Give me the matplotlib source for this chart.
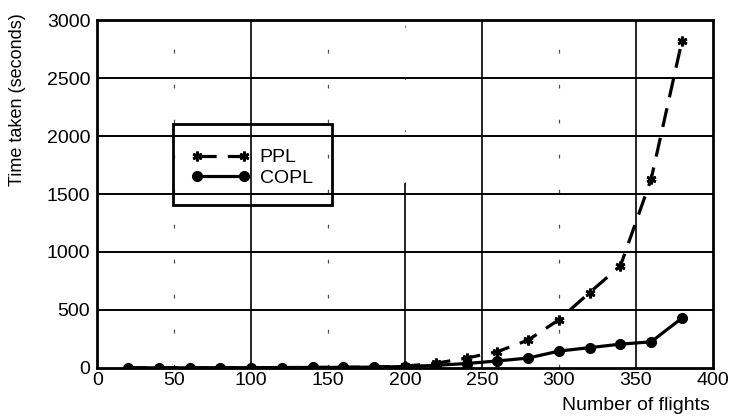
import matplotlib.pyplot as plt
from matplotlib.patches import Rectangle

plt.rcParams['font.family'] = ['Liberation Sans', 'DejaVu Sans']

flights = [20, 40, 60, 80, 100, 120, 140, 160, 180, 200,
           220, 240, 260, 280, 300, 320, 340, 360, 380]
ppl = [1, 1, 1, 2, 2, 3, 4, 5, 8, 15,
       40, 85, 140, 240, 415, 650, 880, 1630, 2820]
copl = [1, 1, 1, 2, 2, 3, 4, 5, 7, 12,
        22, 38, 60, 85, 145, 175, 205, 225, 430]

fig = plt.figure(figsize=(7.31, 4.20), dpi=100)
ax = fig.add_axes([0.133, 0.124, 0.842, 0.828])

ax.plot(flights, ppl, '--', color='black', linewidth=2.3, dashes=(6, 3.5),
        marker=(6, 2, 0), markersize=7, markeredgewidth=2, label='PPL')
ax.plot(flights, copl, '-', color='black', linewidth=2.3,
        marker='o', markersize=7, label='COPL')

ax.set_xlim(0, 400)
ax.set_ylim(0, 3000)
ax.set_xticks([0, 50, 100, 150, 200, 250, 300, 350, 400])
ax.set_yticks([0, 500, 1000, 1500, 2000, 2500, 3000])

# grid as printed: some verticals solid, others only faint dashes
for xv in [100, 250, 350]:
    ax.axvline(xv, color='black', linewidth=1.2, zorder=0)
ax.axvline(200, ymax=0.53, color='black', linewidth=1.2, zorder=0)
ax.axvline(200, ymin=0.53, color='black', linewidth=0.8, zorder=0,
           linestyle=(0, (2, 45)), alpha=0.6)
for xv in [50, 150, 300]:
    ax.axvline(xv, color='black', linewidth=0.9, zorder=0,
               linestyle=(0, (3, 25)), alpha=0.7)
for yv in [500, 1000, 1500, 2000, 2500]:
    ax.axhline(yv, color='black', linewidth=1.4, zorder=0)

for s in ax.spines.values():
    s.set_linewidth(2)
ax.tick_params(direction='in', length=0, labelsize=14)
ax.tick_params(axis='y', pad=5)
ax.tick_params(axis='x', pad=3)

ax.set_ylabel('Time taken (seconds)', fontsize=13)
ax.yaxis.set_label_coords(-0.115, 0.772)
ax.set_xlabel('Number of flights', fontsize=14)
ax.xaxis.set_label_coords(0.875, -0.085)

ax.add_patch(Rectangle((0.123, 0.468), 0.258, 0.233, transform=ax.transAxes,
                       fill=False, edgecolor='black', linewidth=2))
ax.legend(loc='center left', bbox_to_anchor=(0.125, 0.575), frameon=False,
          fontsize=14, handlelength=3.0, handletextpad=0.5,
          labelspacing=0.15, numpoints=2)

fig.savefig('out.png', dpi=100)
